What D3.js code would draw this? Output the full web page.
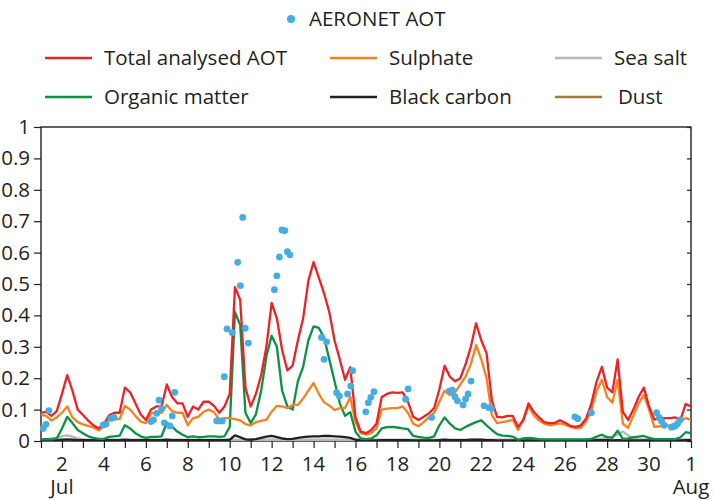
<!DOCTYPE html>
<html>
<head>
<meta charset="utf-8">
<script src="https://cdn.jsdelivr.net/npm/d3@7"></script>
<style>
  html, body { margin: 0; padding: 0; background: #fff; }
  svg { display: block; }
  text { font-family: "Open Sans", "Noto Sans", sans-serif; fill: #231f20; }
</style>
</head>
<body>
<svg id="chart" width="714" height="500"></svg>
<script>
// Aerosol optical thickness, July: 6-hourly model analysis (starting 1 Jul 00 UTC)
// and AERONET sun-photometer observations.
const startDay = 1;          // day of July of first model value
const stepDays = 0.25;       // 6-hourly analysis

const totalAOT = [
  0.09, 0.093, 0.08, 0.095,   0.15, 0.21, 0.16, 0.10,
  0.083, 0.065, 0.05, 0.04,   0.055, 0.082, 0.09, 0.09,
  0.17, 0.155, 0.12, 0.085,   0.067, 0.10, 0.11, 0.11,
  0.18, 0.14, 0.12, 0.12,     0.077, 0.11, 0.10, 0.125,
  0.125, 0.112, 0.09, 0.11,   0.15, 0.49, 0.45, 0.17,
  0.11, 0.15, 0.21, 0.30,     0.44, 0.39, 0.29, 0.225,
  0.24, 0.32, 0.39, 0.51,     0.57, 0.52, 0.47, 0.41,
  0.32, 0.26, 0.195, 0.235,   0.075, 0.03, 0.025, 0.035,
  0.055, 0.14, 0.15, 0.155,   0.153, 0.155, 0.125, 0.077,
  0.067, 0.077, 0.088, 0.105, 0.165, 0.24, 0.205, 0.19,
  0.20, 0.245, 0.30, 0.375,   0.32, 0.28, 0.13, 0.077,
  0.075, 0.08, 0.08, 0.045,   0.065, 0.12, 0.093, 0.075,
  0.06, 0.057, 0.058, 0.066,  0.058, 0.048, 0.045, 0.05,
  0.072, 0.12, 0.19, 0.236,   0.17, 0.155, 0.26, 0.093,
  0.067, 0.10, 0.14, 0.17,    0.11, 0.068, 0.073, 0.073,
  0.073, 0.075, 0.068, 0.118, 0.11
];

const sulphate = [
  0.083, 0.08, 0.065, 0.075,  0.09, 0.11, 0.075, 0.06,
  0.053, 0.048, 0.043, 0.033, 0.048, 0.068, 0.07, 0.07,
  0.112, 0.10, 0.08, 0.062,   0.057, 0.088, 0.09, 0.09,
  0.115, 0.095, 0.09, 0.09,   0.05, 0.073, 0.077, 0.093,
  0.10, 0.092, 0.068, 0.073,  0.073, 0.07, 0.066, 0.054,
  0.05, 0.06, 0.064, 0.068,   0.093, 0.112, 0.11, 0.105,
  0.115, 0.115, 0.135, 0.16,  0.185, 0.15, 0.123, 0.113,
  0.098, 0.105, 0.105, 0.14,  0.06, 0.025, 0.02, 0.025,
  0.04, 0.10, 0.103, 0.105,   0.105, 0.11, 0.09, 0.055,
  0.047, 0.06, 0.075, 0.09,   0.125, 0.16, 0.146, 0.155,
  0.18, 0.205, 0.245, 0.305,  0.26, 0.20, 0.083, 0.057,
  0.06, 0.063, 0.067, 0.035,  0.07, 0.11, 0.082, 0.065,
  0.055, 0.05, 0.053, 0.056,  0.052, 0.045, 0.04, 0.042,
  0.062, 0.10, 0.16, 0.195,   0.14, 0.122, 0.195, 0.055,
  0.042, 0.08, 0.12, 0.146,   0.10, 0.045, 0.047, 0.048,
  0.05, 0.056, 0.063, 0.073,  0.067
];

const organicMatter = [
  0.005, 0.006, 0.005, 0.008, 0.04, 0.077, 0.057, 0.035,
  0.025, 0.015, 0.01, 0.007,  0.007, 0.013, 0.015, 0.017,
  0.05, 0.04, 0.025, 0.015,   0.01, 0.013, 0.013, 0.015,
  0.058, 0.046, 0.03, 0.02,   0.012, 0.015, 0.012, 0.013,
  0.015, 0.015, 0.013, 0.015, 0.045, 0.41, 0.37, 0.09,
  0.057, 0.085, 0.16, 0.27,   0.335, 0.30, 0.16, 0.11,
  0.10, 0.19, 0.236, 0.32,    0.365, 0.36, 0.33, 0.26,
  0.19, 0.12, 0.08, 0.092,    0.03, 0.008, 0.006, 0.008,
  0.018, 0.04, 0.044, 0.045,  0.043, 0.04, 0.038, 0.016,
  0.013, 0.011, 0.01, 0.015,  0.05, 0.075, 0.055, 0.04,
  0.035, 0.045, 0.053, 0.06,  0.066, 0.05, 0.035, 0.022,
  0.017, 0.016, 0.014, 0.004, 0.008, 0.01, 0.008, 0.006,
  0.005, 0.005, 0.005, 0.005, 0.005, 0.005, 0.005, 0.005,
  0.005, 0.007, 0.014, 0.02,  0.012, 0.01, 0.033, 0.007,
  0.008, 0.012, 0.014, 0.016, 0.01, 0.006, 0.006, 0.006,
  0.006, 0.006, 0.012, 0.028, 0.025
];

const blackCarbon = [
  0.003, 0.003, 0.003, 0.003, 0.004, 0.005, 0.004, 0.003,
  0.003, 0.003, 0.003, 0.003, 0.003, 0.003, 0.003, 0.003,
  0.004, 0.003, 0.003, 0.003, 0.003, 0.003, 0.003, 0.003,
  0.004, 0.003, 0.003, 0.003, 0.003, 0.003, 0.003, 0.003,
  0.003, 0.003, 0.003, 0.003, 0.004, 0.018, 0.012, 0.005,
  0.004, 0.006, 0.01, 0.014,  0.016, 0.012, 0.008, 0.006,
  0.007, 0.01, 0.012, 0.014,  0.015, 0.015, 0.016, 0.016,
  0.015, 0.014, 0.012, 0.01,  0.004, 0.002, 0.002, 0.002,
  0.002, 0.003, 0.003, 0.003, 0.003, 0.003, 0.003, 0.002,
  0.002, 0.002, 0.002, 0.002, 0.003, 0.004, 0.003, 0.003,
  0.003, 0.003, 0.004, 0.004, 0.004, 0.003, 0.003, 0.002,
  0.002, 0.002, 0.002, 0.002, 0.002, 0.002, 0.002, 0.002,
  0.002, 0.002, 0.002, 0.002, 0.002, 0.002, 0.002, 0.002,
  0.002, 0.002, 0.003, 0.003, 0.003, 0.002, 0.003, 0.002,
  0.002, 0.002, 0.002, 0.002, 0.002, 0.002, 0.002, 0.002,
  0.002, 0.002, 0.002, 0.003, 0.003
];

const seaSalt = [
  0.005, 0.006, 0.008, 0.011, 0.015, 0.018, 0.014, 0.008,
  0.005, 0.004, 0.004, 0.004, 0.004, 0.004, 0.004, 0.004,
  0.004, 0.004, 0.004, 0.004, 0.004, 0.004, 0.004, 0.004,
  0.004, 0.004, 0.004, 0.004, 0.004, 0.004, 0.004, 0.004,
  0.004, 0.004, 0.004, 0.004, 0.004, 0.004, 0.004, 0.004,
  0.004, 0.004, 0.004, 0.004, 0.004, 0.004, 0.004, 0.004,
  0.004, 0.004, 0.004, 0.004, 0.004, 0.004, 0.004, 0.004,
  0.004, 0.004, 0.004, 0.004, 0.004, 0.004, 0.004, 0.004,
  0.004, 0.004, 0.004, 0.004, 0.004, 0.004, 0.004, 0.004,
  0.004, 0.004, 0.004, 0.004, 0.004, 0.004, 0.004, 0.004,
  0.004, 0.004, 0.004, 0.004, 0.004, 0.004, 0.004, 0.004,
  0.004, 0.004, 0.004, 0.004, 0.004, 0.004, 0.004, 0.004,
  0.004, 0.004, 0.004, 0.004, 0.004, 0.004, 0.004, 0.004,
  0.005, 0.006, 0.006, 0.008, 0.01, 0.014, 0.02, 0.03,
  0.018, 0.009, 0.006, 0.005, 0.005, 0.005, 0.005, 0.005,
  0.005, 0.005, 0.005, 0.005, 0.005
];

const dust = new Array(totalAOT.length).fill(0.002);

// AERONET observations: time (day of July, fractional) and AOT
const aeronetDay = [
  1.11, 1.24, 1.37,
  3.97, 4.10, 4.34, 4.48,
  6.25, 6.36, 6.52, 6.63, 6.75, 6.88, 7.14, 7.26, 7.38,
  9.38, 9.49, 9.65, 9.74, 9.87, 10.12, 10.38, 10.51, 10.62, 10.74, 10.89,
  12.13, 12.25, 12.37, 12.49, 12.63, 12.75, 12.87,
  14.38, 14.50, 14.62,
  15.10, 15.23, 15.62, 15.77, 15.86,
  16.49, 16.61, 16.73, 16.88,
  18.39, 18.51,
  19.63,
  20.47, 20.62, 20.74, 20.86, 21.13, 21.25, 21.37, 21.51,
  22.13, 22.36, 22.49,
  26.46, 26.60,
  27.25,
  30.36, 30.49, 30.60, 30.73, 31.07, 31.23, 31.36, 31.48
];
const aeronetAOT = [
  0.040, 0.053, 0.097,
  0.051, 0.054, 0.072, 0.075,
  0.062, 0.067, 0.088, 0.130, 0.103, 0.058, 0.048, 0.080, 0.155,
  0.064, 0.064, 0.064, 0.205, 0.357, 0.345, 0.569, 0.495, 0.712, 0.359, 0.312,
  0.482, 0.526, 0.586, 0.672, 0.670, 0.603, 0.593,
  0.330, 0.260, 0.316,
  0.154, 0.143, 0.150, 0.175, 0.224,
  0.093, 0.122, 0.139, 0.157,
  0.133, 0.166,
  0.075,
  0.159, 0.162, 0.141, 0.128, 0.115, 0.134, 0.150, 0.191,
  0.112, 0.106, 0.104,
  0.077, 0.071,
  0.090,
  0.090, 0.074, 0.063, 0.050, 0.044, 0.047, 0.055, 0.067
];

// Axis ticks: every day, labelled every second day; day 32 is 1 August
const xTickDays = d3.range(1, 33);
const xLabelDays = d3.range(2, 33, 2);
const xTickLabels = ["2", "4", "6", "8", "10", "12", "14", "16", "18", "20",
                     "22", "24", "26", "28", "30", "1"];
const monthLabels = [{ day: 2, text: "Jul" }, { day: 32, text: "Aug" }];
const yTicks = d3.range(0, 1.0001, 0.1);

const series = [
  { name: "Dust",               values: dust,          color: "#a37a45" },
  { name: "Sea salt",           values: seaSalt,       color: "#b8b8b8" },
  { name: "Black carbon",       values: blackCarbon,   color: "#231f20" },
  { name: "Organic matter",     values: organicMatter, color: "#0a9245" },
  { name: "Sulphate",           values: sulphate,      color: "#f6821f" },
  { name: "Total analysed AOT", values: totalAOT,      color: "#ec2227" }
];
const legendOrder = ["Total analysed AOT", "Sulphate", "Sea salt",
                     "Organic matter", "Black carbon", "Dust"];
const dotColor = "#45ade2";

const W = 714;
const fontSize = 20.5;
const svg = d3.select("#chart");
const plot = { left: 41, right: 691, top: 127, bottom: 441 };

const x = d3.scaleLinear().domain([1, 32]).range([plot.left, plot.right]);
const y = d3.scaleLinear().domain([0, 1]).range([plot.bottom, plot.top]);

svg.append("defs").append("clipPath").attr("id", "plotClip")
  .append("rect")
  .attr("x", plot.left).attr("y", plot.top - 2)
  .attr("width", plot.right - plot.left).attr("height", plot.bottom - plot.top + 2);

const axisColor = "#231f20";

// Bottom axis: daily ticks pointing down
const xAxis = d3.axisBottom(x).tickValues(xTickDays).tickSize(7).tickFormat("");
const gx = svg.append("g").attr("transform", `translate(0,${plot.bottom})`).call(xAxis);
gx.select(".domain").remove();
gx.selectAll("line").attr("stroke", axisColor).attr("stroke-width", 1.2);

svg.append("g").selectAll("text").data(xLabelDays).join("text")
  .attr("x", d => x(d)).attr("y", 471)
  .attr("text-anchor", "middle").attr("font-size", fontSize)
  .text((d, i) => xTickLabels[i]);

// Month names under the first and last labels, kept inside the page
svg.append("g").selectAll("text").data(monthLabels).join("text")
  .attr("y", 494)
  .attr("font-size", fontSize)
  .text(d => d.text)
  .attr("x", function (d) {
    const w = this.getComputedTextLength();
    return Math.min(x(d.day) - w / 2, W - w - 1);
  });

// Left axis: outward ticks with labels
const yAxis = d3.axisLeft(y).tickValues(yTicks).tickSize(7)
  .tickFormat(d => d3.format(".1~f")(d));
const gy = svg.append("g").attr("transform", `translate(${plot.left},0)`).call(yAxis);
gy.select(".domain").remove();
gy.selectAll("line").attr("stroke", axisColor).attr("stroke-width", 1.2);
gy.selectAll("text").attr("font-size", fontSize).attr("x", -11)
  .style("font-family", "'Open Sans', 'Noto Sans', sans-serif").attr("fill", axisColor);

// Right axis: short inward ticks
const yRight = d3.axisLeft(y).tickValues(yTicks).tickSize(4).tickFormat("");
const gr = svg.append("g").attr("transform", `translate(${plot.right},0)`).call(yRight);
gr.select(".domain").remove();
gr.selectAll("line").attr("stroke", axisColor).attr("stroke-width", 1.2);

// Frame
svg.append("rect")
  .attr("x", plot.left).attr("y", plot.top)
  .attr("width", plot.right - plot.left).attr("height", plot.bottom - plot.top)
  .attr("fill", "none").attr("stroke", axisColor).attr("stroke-width", 1.4);

// Model series
const line = d3.line()
  .x((d, i) => x(startDay + i * stepDays))
  .y(d => y(d));

const lines = svg.append("g").attr("clip-path", "url(#plotClip)");
lines.selectAll("path").data(series).join("path")
  .attr("d", d => line(d.values))
  .attr("fill", "none")
  .attr("stroke", d => d.color)
  .attr("stroke-width", 2.3)
  .attr("stroke-linejoin", "round");

// AERONET points
svg.append("g").selectAll("circle").data(aeronetDay).join("circle")
  .attr("cx", d => x(d))
  .attr("cy", (d, i) => y(aeronetAOT[i]))
  .attr("r", 3.4)
  .attr("fill", dotColor);

// Legend
const legend = svg.append("g");
legend.append("circle").attr("cx", 291).attr("cy", 19).attr("r", 4).attr("fill", dotColor);
legend.append("text").attr("x", 309).attr("y", 26).attr("font-size", fontSize).text("AERONET AOT");

const colX = [45, 330, 555];
const rowY = [58, 97];
legendOrder.forEach((name, i) => {
  const s = series.find(d => d.name === name);
  const cx = colX[i % 3], cy = rowY[Math.floor(i / 3)];
  legend.append("line")
    .attr("x1", cx).attr("x2", cx + 47).attr("y1", cy).attr("y2", cy)
    .attr("stroke", s.color).attr("stroke-width", 2.4);
  legend.append("text")
    .attr("x", cx + 59 + (name === "Dust" ? 4 : 0)).attr("y", cy + 7)
    .attr("font-size", fontSize).text(name);
});
</script>
</body>
</html>
